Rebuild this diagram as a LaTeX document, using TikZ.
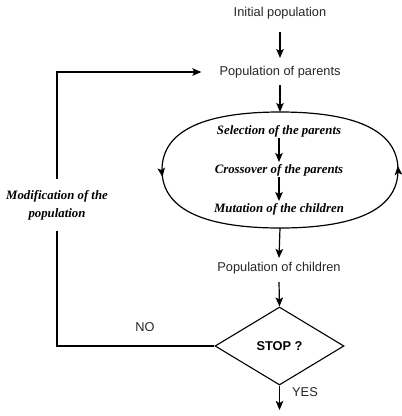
\documentclass[tikz,border=0pt]{standalone}
\usepackage{fontspec}
\setmainfont{Liberation Sans}
\newfontfamily\tnr{Liberation Serif}
\usetikzlibrary{arrows.meta,shapes.geometric,decorations.markings}
\begin{document}
\begin{tikzpicture}[x=1pt,y=-1pt,
  font=\fontsize{12.8}{15}\selectfont,
  lbl/.style={inner sep=0pt, text=black!85},
  stepit/.style={inner sep=0pt, font=\tnr\bfseries\itshape\fontsize{12.8}{18}\selectfont},
  arr/.style={-{Stealth[length=9pt,width=7.5pt,inset=2pt]}, line width=1.2pt},
  plain/.style={line width=1.2pt},
  loopmarks/.style={postaction={decorate}, decoration={markings,
    mark=at position 0.262 with {\arrow{Stealth[length=9pt,width=7.5pt,inset=2pt]}},
    mark=at position 0.757 with {\arrow{Stealth[length=9pt,width=7.5pt,inset=2pt]}}}}
]
\useasboundingbox (0,0) rectangle (402,416);

\node[lbl] (init) at (280,13) {Initial population};
\node[lbl] (parents) at (280,72) {Population of parents};
\node[stepit] (sel) at (279,131) {Selection of the parents};
\node[stepit] (cross) at (279,170) {Crossover of the parents};
\node[stepit] (mut) at (279,209) {Mutation of the children};
\node[lbl] (children) at (279,268) {Population of children};
\node[diamond, draw, line width=1.1pt, minimum width=129pt, minimum height=78pt,
      inner sep=0pt, aspect=1.65, font=\bfseries\fontsize{12.8}{15}\selectfont] (stop) at (279.5,346) {STOP ?};
\node[stepit, align=center, inner ysep=11pt] (mod) at (57,205) {Modification of the\\population};
\node[lbl] (no) at (145,327) {NO};
\node[lbl] (yes) at (305,392) {YES};
\coordinate (ltop) at (280,112);
\coordinate (lbot) at (280,228);
\coordinate (fin) at (279.5,410);

% loop
\draw[plain, loopmarks] (ltop) .. controls (210,112) and (162,128) .. (162,170)
   .. controls (162,212) and (210,228) .. (lbot)
   .. controls (350,228) and (398,212) .. (398,170)
   .. controls (398,128) and (350,112) .. (ltop) -- cycle;

\draw[arr] ([yshift=-19pt]init.center) -- ([yshift=14pt]parents.center);
\draw[arr] ([yshift=-13pt]parents.center) -- (ltop);
\draw[arr] ([yshift=-7pt]sel.center) -- ([yshift=8pt]cross.center);
\draw[arr] ([yshift=-7pt]cross.center) -- ([yshift=8pt]mut.center);
\draw[arr] (lbot) -- ([yshift=10pt]children.center);
\draw[arr] ([yshift=-14pt]children.center) -- (stop.north);
\draw[arr] (stop.south) -- (fin);
\draw[plain] (stop.west) -| (mod.south);
\draw[arr] (mod.north) |- ([xshift=-18pt]parents.west);
\end{tikzpicture}
\end{document}
